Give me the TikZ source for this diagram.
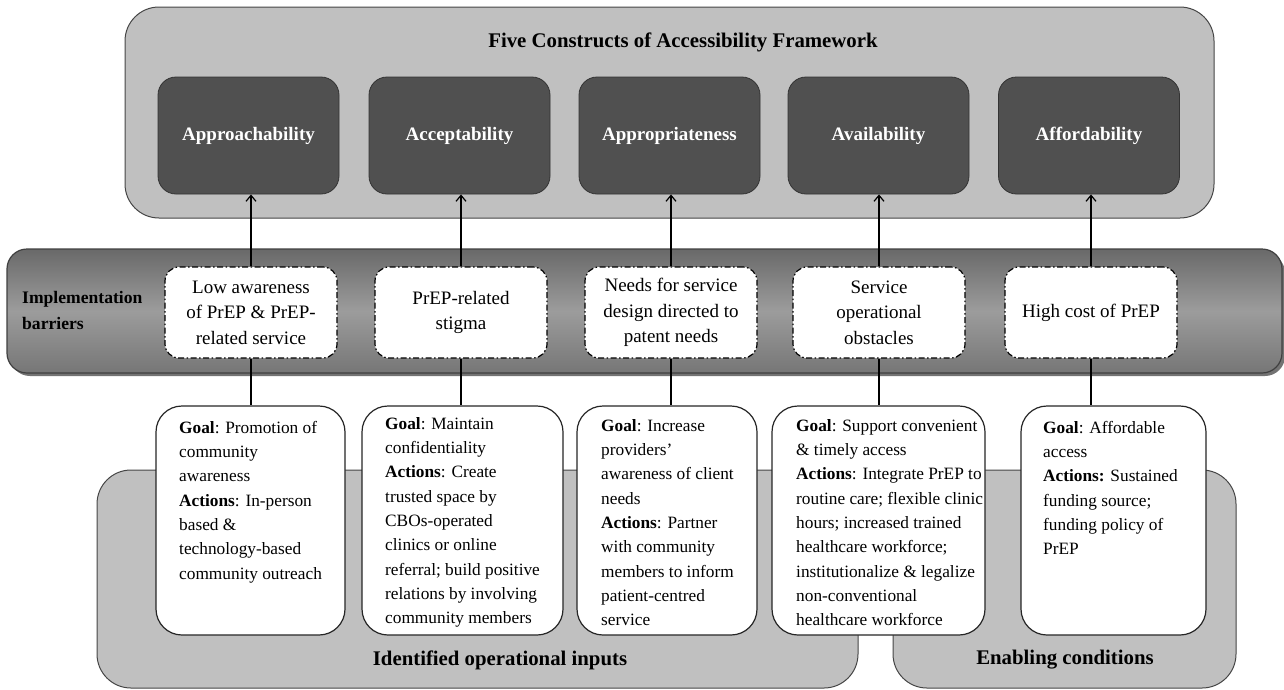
\documentclass[tikz,border=0pt]{standalone}
\usepackage{fontspec}
\setmainfont{Liberation Serif}
\usetikzlibrary{arrows.meta,calc}
\definecolor{lightgr}{RGB}{192,192,192}
\definecolor{darkbox}{RGB}{80,80,80}
\definecolor{edgegr}{RGB}{70,70,70}
\definecolor{bandtop}{RGB}{105,105,105}
\definecolor{bandmid}{RGB}{156,156,156}
\definecolor{bandbot}{RGB}{118,118,118}
\tikzset{
  topbox/.style={draw=edgegr, line width=1pt, fill=lightgr, rounded corners=34pt},
  constructbox/.style={draw=black!80, line width=0.8pt, fill=darkbox, rounded corners=18pt,
     minimum width=181pt, minimum height=117pt, text=white,
     font=\fontsize{19}{23}\selectfont\bfseries},
  bandbox/.style={draw=black!75, line width=1.2pt, rounded corners=20pt,
     top color=bandtop, bottom color=bandbot, middle color=bandmid},
  barrierbox/.style={draw=black, line width=1.2pt, fill=white, rounded corners=14pt,
     dash pattern=on 6pt off 2.5pt on 1.5pt off 2.5pt,
     minimum width=172pt, minimum height=91pt, align=center, inner sep=0pt,
     font=\fontsize{19}{25.5}\selectfont},
  goalbox/.style={draw=black!85, line width=1.2pt, fill=white, rounded corners=26pt, minimum height=229pt},
  graybox/.style={draw=edgegr, line width=1pt, fill=lightgr, rounded corners=34pt, minimum height=218pt},
  goaltext/.style={anchor=north west, inner sep=0pt, align=left, font=\fontsize{17.3}{24.3}\selectfont},
  biglabel/.style={font=\fontsize{20.8}{25}\selectfont\bfseries, inner sep=0pt},
  link/.style={line width=1.4pt, black},
  uparrow/.style={link, -{Straight Barb[length=6pt,width=10pt,line width=1.2pt]}}
}
\begin{document}
\begin{tikzpicture}[x=1pt,y=-1pt]
\useasboundingbox (0,0) rectangle (1284,689);
% top framework box
\node[topbox, minimum width=1089pt, minimum height=211pt] (frame) at (669.5,112.5) {};
\node[biglabel] (ftitle) at (683,42) {Five Constructs of Accessibility Framework};
\node[constructbox] (c1) at (248.5,135.5) {Approachability};
\node[constructbox] (c2) at (459.5,135.5) {Acceptability};
\node[constructbox] (c3) at (669.5,135.5) {Appropriateness};
\node[constructbox] (c4) at (878.5,135.5) {Availability};
\node[constructbox] (c5) at (1089,135.5) {Affordability};
% barrier band
\fill[black!55] (10,253) [rounded corners=20pt] rectangle (1285,376);
\node[bandbox, minimum width=1275pt, minimum height=124pt] (band) at (644.5,311) {};
\node[anchor=west, align=left, inner sep=0pt, font=\fontsize{17.6}{26}\selectfont\bfseries] (impl) at (22,310) {Implementation\\barriers};
\node[barrierbox] (d1) at (251,312.5) {Low awareness\\of PrEP \& PrEP-\\related service};
\node[barrierbox] (d2) at (461,312.5) {PrEP-related\\stigma};
\node[barrierbox] (d3) at (671,312.5) {Needs for service\\design directed to\\patent needs};
\node[barrierbox] (d4) at (879,312.5) {Service\\operational\\obstacles};
\node[barrierbox] (d5) at (1091,312.5) {High cost of PrEP};
% bottom grey boxes
\node[graybox, minimum width=761pt] (inputs) at (477.5,579) {};
\node[graybox, minimum width=343pt] (enabling) at (1064.5,579) {};
\node[biglabel] (inputslbl) at (500,660) {Identified operational inputs};
\node[biglabel] (enablinglbl) at (1065,660) {Enabling conditions};
% goal boxes
\node[goalbox, minimum width=189pt] (g1) at (250.5,520.5) {};
\node[goalbox, minimum width=201pt] (g2) at (462.5,520.5) {};
\node[goalbox, minimum width=180pt] (g3) at (667,520.5) {};
\node[goalbox, minimum width=213pt] (g4) at (878.5,520.5) {};
\node[goalbox, minimum width=185pt] (g5) at (1113.5,520.5) {};
\node[goaltext] (t1) at (179,421) {\textbf{Goal}: Promotion of\\community\\awareness\\\textbf{Actions}: In-person\\based \&\\technology-based\\community outreach};
\node[goaltext] (t2) at (385,417) {\textbf{Goal}: Maintain\\confidentiality\\\textbf{Actions}: Create\\trusted space by\\CBOs-operated\\clinics or online\\referral; build positive\\relations by involving\\community members};
\node[goaltext] (t3) at (601,419) {\textbf{Goal}: Increase\\providers’\\awareness of client\\needs\\\textbf{Actions}: Partner\\with community\\members to inform\\patient-centred\\service};
\node[goaltext] (t4) at (796,419) {\textbf{Goal}: Support convenient\\\& timely access\\\textbf{Actions}: Integrate PrEP to\\routine care; flexible clinic\\hours; increased trained\\healthcare workforce;\\institutionalize \& legalize\\non-conventional\\healthcare workforce};
\node[goaltext] (t5) at (1043,421) {\textbf{Goal}: Affordable\\access\\\textbf{Actions:} Sustained\\funding source;\\funding policy of\\PrEP};
% connectors
\foreach \i in {1,...,5}{
  \draw[uparrow] (d\i.north) -- (d\i.north |- c\i.south);
  \draw[link] (d\i.south) -- (d\i.south |- g\i.north);
}
\end{tikzpicture}
\end{document}
